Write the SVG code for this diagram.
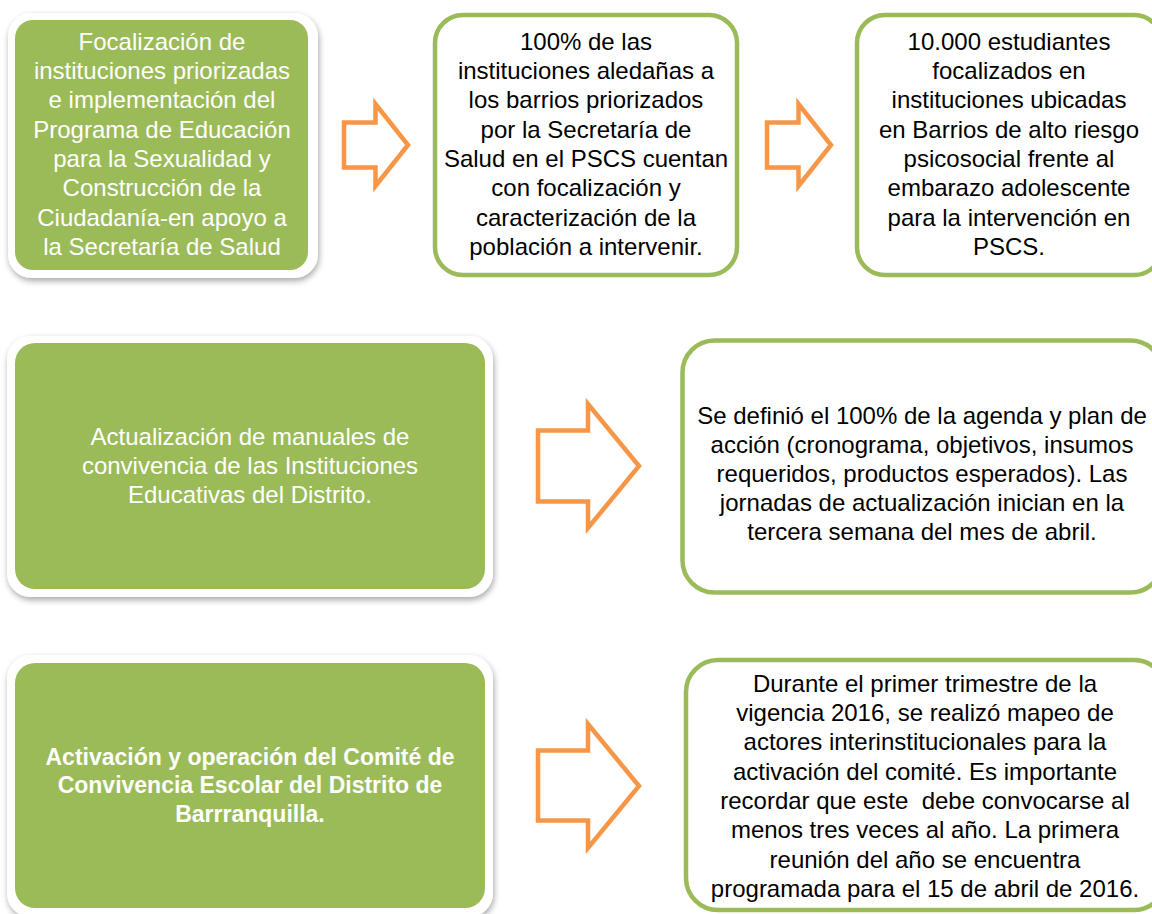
<svg xmlns="http://www.w3.org/2000/svg" width="1152" height="914" viewBox="0 0 1152 914">
<defs>
<filter id="sh" x="-10%" y="-10%" width="120%" height="130%">
<feDropShadow dx="1" dy="3" stdDeviation="3" flood-color="#000" flood-opacity="0.35"/>
</filter>
</defs>
<style>
.frame{fill:#fff;filter:url(#sh)}
.green{fill:#9BBB59}
.out{fill:#fff;stroke:#9BBB59;stroke-width:4.5}
.arrow{fill:#fff;stroke:#F79646;stroke-width:4.5;stroke-linejoin:miter}
text{font-family:"Liberation Sans",Arial,sans-serif;font-size:24px;text-anchor:middle;white-space:pre}
.w{fill:#fff}
.b{fill:#000}
.bold{font-weight:bold;font-size:23px}
</style>
<rect width="1152" height="914" fill="#fff"/>

<g id="node-focalizacion">
<rect class="frame" x="8" y="13" width="310" height="265" rx="24"/>
<rect class="green" x="15" y="20" width="293" height="250" rx="18"/>
<text class="w" x="162" y="50">Focalización de</text>
<text class="w" x="162" y="79">instituciones priorizadas</text>
<text class="w" x="162" y="108">e implementación del</text>
<text class="w" x="162" y="138">Programa de Educación</text>
<text class="w" x="162" y="167">para la Sexualidad y</text>
<text class="w" x="162" y="196">Construcción de la</text>
<text class="w" x="162" y="226">Ciudadanía-en apoyo a</text>
<text class="w" x="162" y="255">la Secretaría de Salud</text>
</g>

<g id="node-instituciones">
<rect class="out" x="435" y="15" width="302" height="260" rx="28"/>
<text class="b" x="586" y="50">100% de las</text>
<text class="b" x="586" y="79">instituciones aledañas a</text>
<text class="b" x="586" y="108">los barrios priorizados</text>
<text class="b" x="586" y="138">por la Secretaría de</text>
<text class="b" x="586" y="167">Salud en el PSCS cuentan</text>
<text class="b" x="586" y="196">con focalización y</text>
<text class="b" x="586" y="226">caracterización de la</text>
<text class="b" x="586" y="255">población a intervenir.</text>
</g>

<g id="node-estudiantes">
<rect class="out" x="857" y="15" width="305" height="260" rx="28"/>
<text class="b" x="1009" y="50">10.000 estudiantes</text>
<text class="b" x="1009" y="79">focalizados en</text>
<text class="b" x="1009" y="108">instituciones ubicadas</text>
<text class="b" x="1009" y="138">en Barrios de alto riesgo</text>
<text class="b" x="1009" y="167">psicosocial frente al</text>
<text class="b" x="1009" y="196">embarazo adolescente</text>
<text class="b" x="1009" y="226">para la intervención en</text>
<text class="b" x="1009" y="255">PSCS.</text>
</g>

<g id="node-manuales">
<rect class="frame" x="7" y="336" width="486" height="261" rx="24"/>
<rect class="green" x="15" y="343" width="470" height="246" rx="20"/>
<text class="w" x="250" y="445">Actualización de manuales de</text>
<text class="w" x="250" y="474">convivencia de las Instituciones</text>
<text class="w" x="250" y="503">Educativas del Distrito.</text>
</g>

<g id="node-agenda">
<rect class="out" x="682.5" y="340.5" width="480" height="252" rx="32"/>
<text class="b" x="922" y="424">Se definió el 100% de la agenda y plan de</text>
<text class="b" x="922" y="453">acción (cronograma, objetivos, insumos</text>
<text class="b" x="922" y="482">requeridos, productos esperados). Las</text>
<text class="b" x="922" y="511">jornadas de actualización inician en la</text>
<text class="b" x="922" y="540">tercera semana del mes de abril.</text>
</g>

<g id="node-comite">
<rect class="frame" x="7" y="655" width="486" height="262" rx="24"/>
<rect class="green" x="15" y="663" width="470" height="245" rx="20"/>
<text class="w bold" x="250" y="765">Activación y operación del Comité de</text>
<text class="w bold" x="250" y="793">Convivencia Escolar del Distrito de</text>
<text class="w bold" x="250" y="822">Barrranquilla.</text>
</g>

<g id="node-mapeo">
<rect class="out" x="686" y="660" width="480" height="250" rx="32"/>
<text class="b" x="925" y="692">Durante el primer trimestre de la</text>
<text class="b" x="925" y="721">vigencia 2016, se realizó mapeo de</text>
<text class="b" x="925" y="750">actores interinstitucionales para la</text>
<text class="b" x="925" y="780">activación del comité. Es importante</text>
<text class="b" x="925" y="809" xml:space="preserve">recordar que este  debe convocarse al</text>
<text class="b" x="925" y="838">menos tres veces al año. La primera</text>
<text class="b" x="925" y="868">reunión del año se encuentra</text>
<text class="b" x="925" y="897">programada para el 15 de abril de 2016.</text>
</g>

<g id="connectors">
<polygon class="arrow" points="344,122.5 375.5,122.5 375.5,104 408,145 375.5,186 375.5,167.5 344,167.5"/>
<polygon class="arrow" points="767,122.5 798.5,122.5 798.5,104 831,145 798.5,186 798.5,167.5 767,167.5"/>
<polygon class="arrow" points="538,430.5 588,430.5 588,404 639,466 588,528 588,501.5 538,501.5"/>
<polygon class="arrow" points="538,750.5 588,750.5 588,724 639,786 588,848 588,820.5 538,820.5"/>
</g>
</svg>
